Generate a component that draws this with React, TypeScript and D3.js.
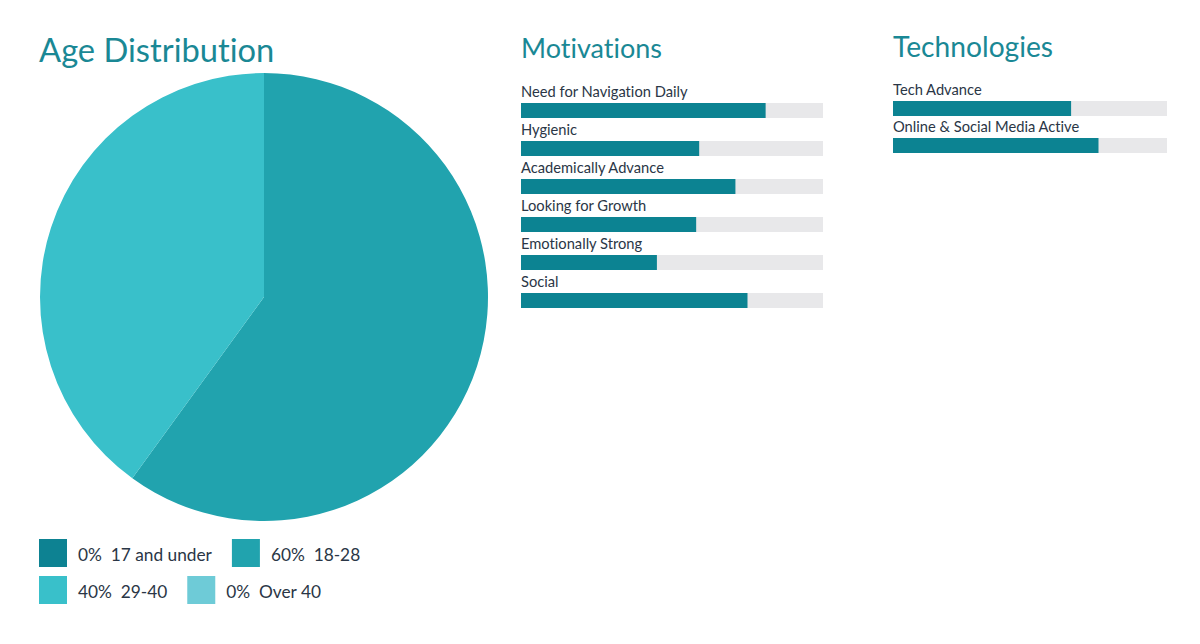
import React, { useEffect, useRef } from "react";
import * as d3 from "d3";

const ageLabels = ["17 and under", "18-28", "29-40", "Over 40"];
const ageValues = [0, 60, 40, 0];
const ageColors = ["#0d8292", "#21a3ae", "#39c0ca", "#6ecbd7"];

const motivationLabels = [
  "Need for Navigation Daily",
  "Hygienic",
  "Academically Advance",
  "Looking for Growth",
  "Emotionally Strong",
  "Social",
];
const motivationValues = [81, 59, 71, 58, 45, 75];

const techLabels = ["Tech Advance", "Online & Social Media Active"];
const techValues = [65, 75];

const FONT = "Lato, 'Open Sans', sans-serif";
const TITLE_COLOR = "#1a8895";
const TEXT_COLOR = "#2a3646";
const BAR_COLOR = "#0c8392";
const TRACK_COLOR = "#e8e8ea";

export default function App() {
  const ref = useRef<SVGSVGElement>(null);

  useEffect(() => {
    const svg = d3.select(ref.current);
    svg.selectAll("*").remove();
    svg.style("font-variant-ligatures", "none");

    // Age Distribution
    svg.append("text").attr("x", 39).attr("y", 62).attr("font-family", FONT)
      .attr("font-size", 32.7).attr("fill", TITLE_COLOR).text("Age Distribution");

    const pie = d3.pie<number>().sort(null).value((d) => d)(ageValues);
    const arc = d3.arc<d3.PieArcDatum<number>>().innerRadius(0).outerRadius(224);
    const g = svg.append("g").attr("transform", "translate(264,297)");
    g.selectAll("path").data(pie.filter((p) => p.value > 0)).join("path")
      .attr("d", arc as any)
      .attr("fill", (d) => ageColors[d.index]);

    // Legend (flowing)
    const leg = svg.append("g");
    const rows = [[0, 1], [2, 3]];
    rows.forEach((row, ri) => {
      let x = 39;
      const y = 539 + ri * 37;
      row.forEach((i) => {
        leg.append("rect").attr("x", x).attr("y", y).attr("width", 28).attr("height", 28)
          .attr("fill", ageColors[i]);
        const t = leg.append("text").attr("x", x + 39).attr("y", y + 22)
          .attr("font-family", FONT).attr("font-size", 17.3).attr("fill", TEXT_COLOR)
          .attr("xml:space", "preserve")
          .text(`${ageValues[i]}%  ${ageLabels[i]}`);
        const w = (t.node() as SVGTextElement).getComputedTextLength();
        x = x + 39 + w + 20;
      });
    });

    // Bar groups
    const drawBars = (title: string, labels: string[], values: number[], x0: number, x1: number, titleY: number, barY0: number, step: number, barH: number, titleSize: number) => {
      svg.append("text").attr("x", x0).attr("y", titleY).attr("font-family", FONT)
        .attr("font-size", titleSize).attr("fill", TITLE_COLOR).text(title);
      const xs = d3.scaleLinear().domain([0, 100]).range([x0, x1]);
      const ys = d3.scaleLinear().domain([0, 1]).range([barY0, barY0 + step]);
      labels.forEach((lab, i) => {
        const y = ys(i);
        svg.append("text").attr("x", x0).attr("y", y - 6).attr("font-family", FONT)
          .attr("font-size", 14.7).attr("fill", TEXT_COLOR).text(lab);
        svg.append("rect").attr("x", xs(0)).attr("y", y).attr("width", xs(100) - xs(0))
          .attr("height", barH).attr("fill", TRACK_COLOR);
        svg.append("rect").attr("x", xs(0)).attr("y", y).attr("width", xs(values[i]) - xs(0))
          .attr("height", barH).attr("fill", BAR_COLOR);
      });
    };
    drawBars("Motivations", motivationLabels, motivationValues, 521, 823, 58, 103, 38, 15, 27);
    drawBars("Technologies", techLabels, techValues, 893, 1167, 57, 101, 37, 15, 28.2);
  }, []);

  return (
    <svg ref={ref} width={1200} height={644}
      style={{ position: "absolute", left: 0, top: 0, background: "#fff" }} />
  );
}
